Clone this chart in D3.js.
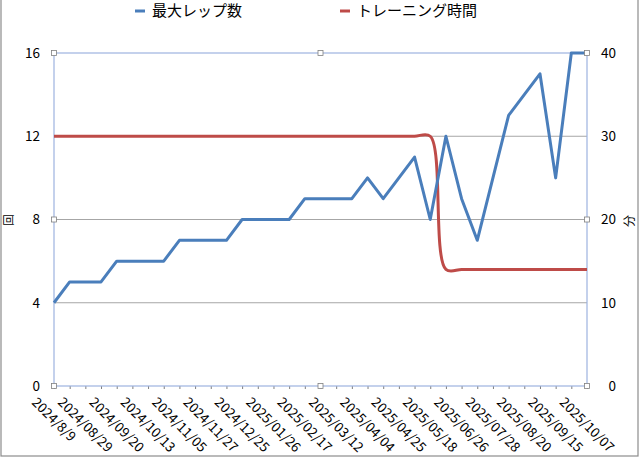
<!DOCTYPE html>
<html><head><meta charset="utf-8">
<script src="https://cdn.jsdelivr.net/npm/d3@7"></script>
<style>
html,body{margin:0;padding:0;background:#fff;}
svg{display:block;font-family:"Noto Sans CJK JP","Noto Sans",sans-serif;}
</style></head>
<body>
<svg id="chart" width="640" height="458"></svg>
<script>
// ---- data ----
const tickLabels = ["2024/8/9","2024/08/29","2024/09/20","2024/10/13","2024/11/05","2024/11/27","2024/12/25","2025/01/26","2025/02/17","2025/03/12","2025/04/04","2025/04/25","2025/05/18","2025/06/26","2025/07/28","2025/08/20","2025/09/15","2025/10/07"];
const maxReps = [4,5,5,5,6,6,6,6,7,7,7,7,8,8,8,8,9,9,9,9,10,9,10,11,8,12,9,7,10,13,14,15,10,16,16];
const trainingMinutes = [30,30,30,30,30,30,30,30,30,30,30,30,30,30,30,30,30,30,30,30,30,30,30,30,30,14,14,14,14,14,14,14,14,14,14];
const leftTicks = [0,4,8,12,16];
const rightTicks = [0,10,20,30,40];
const seriesNames = ["最大レップ数","トレーニング時間"];
const seriesColors = ["#4a7ebb","#be4b48"];

const svg = d3.select("#chart");
const L = 54, R = 587, T = 53, B = 386;
const n = maxReps.length;
const x = d3.scaleLinear().domain([0, n - 1]).range([L, R]);
const yL = d3.scaleLinear().domain([0, 16]).range([B, T]);
const yR = d3.scaleLinear().domain([0, 40]).range([B, T]);

// outer border
svg.append("rect").attr("x", 1).attr("y", -5).attr("width", 637).attr("height", 461)
  .attr("fill", "none").attr("stroke", "#8c8c8c").attr("stroke-width", 1.2);

// gridlines
svg.append("g").selectAll("line").data(leftTicks.filter(d => d > 0 && d < 16)).join("line")
  .attr("x1", L).attr("x2", R).attr("y1", d => yL(d)).attr("y2", d => yL(d))
  .attr("stroke", "#a6a6a6").attr("stroke-width", 1);

// bottom axis ticks
const xAxis = d3.axisBottom(x).tickValues(d3.range(n)).tickSize(3).tickSizeOuter(0).tickFormat("");
const gx = svg.append("g").attr("transform", `translate(0,${B})`).call(xAxis);
gx.select(".domain").remove();
gx.selectAll(".tick line").attr("stroke", "#7f7f7f");

// left axis
const gl = svg.append("g").attr("transform", `translate(${L},0)`)
  .call(d3.axisLeft(yL).tickValues(leftTicks).tickSize(0).tickPadding(14));
gl.select(".domain").remove();
gl.selectAll("text").attr("font-size", 13.5).attr("fill", "#000")
  .attr("font-family", "'Noto Sans CJK JP',sans-serif");

// right axis
const gr = svg.append("g").attr("transform", `translate(${R},0)`)
  .call(d3.axisRight(yR).tickValues(rightTicks).tickSize(0));
gr.select(".domain").remove();
gr.selectAll("text").attr("font-size", 13.5).attr("fill", "#000").attr("text-anchor", "end").attr("x", 29)
  .attr("font-family", "'Noto Sans CJK JP',sans-serif");

// plot area border
svg.append("rect").attr("x", L).attr("y", T).attr("width", R - L).attr("height", B - T)
  .attr("fill", "none").attr("stroke", "#9db3e0").attr("stroke-width", 1.2);

// lines
const lineL = d3.line().x((d, i) => x(i)).y(d => yL(d)).curve(d3.curveLinear);
const lineR = d3.line().x((d, i) => x(i)).y(d => yR(d)).curve(d3.curveCatmullRom.alpha(0.5));
svg.append("path").datum(trainingMinutes).attr("d", lineR).attr("fill", "none")
  .attr("stroke", seriesColors[1]).attr("stroke-width", 3).attr("stroke-linejoin", "round");
svg.append("path").datum(maxReps).attr("d", lineL).attr("fill", "none")
  .attr("stroke", seriesColors[0]).attr("stroke-width", 3).attr("stroke-linejoin", "round");

// selection handles
const handles = [[L, T], [(L + R) / 2, T], [R, T], [L, (T + B) / 2], [R, (T + B) / 2], [L, B], [(L + R) / 2, B], [R, B]];
svg.append("g").selectAll("rect").data(handles).join("rect")
  .attr("x", d => d[0] - 2.5).attr("y", d => d[1] - 2.5).attr("width", 5).attr("height", 5)
  .attr("fill", "#fff").attr("stroke", "#808080").attr("stroke-width", 0.8);

// x labels rotated 45deg
const fs = 13.5;
const labG = svg.append("g").attr("font-size", fs).attr("fill", "#000");
tickLabels.forEach((lab, k) => {
  const i = k * 2;
  const g = labG.append("g");
  const t = g.append("text").attr("text-anchor", "middle").attr("dy", "0.35em").text(lab);
  const len = t.node().getComputedTextLength();
  const boxH = (len + fs) * Math.SQRT1_2;
  g.attr("transform", `translate(${x(i)},${395 + boxH / 2}) rotate(45)`);
});

// axis titles
svg.append("text").attr("transform", "translate(8.5,220) rotate(-90)").attr("text-anchor", "middle")
  .attr("dy", "0.35em").attr("font-size", 11.5).text("回");
svg.append("text").attr("transform", "translate(629.5,221) rotate(-90)").attr("text-anchor", "middle")
  .attr("dy", "0.35em").attr("font-size", 12).text("分");

// legend
const legendX = [135, 340];
seriesNames.forEach((name, i) => {
  const g = svg.append("g").attr("transform", `translate(${legendX[i]},11)`);
  g.append("line").attr("x1", 0).attr("x2", 10).attr("y1", 0).attr("y2", 0)
    .attr("stroke", seriesColors[i]).attr("stroke-width", 3);
  g.append("text").attr("x", 17).attr("dy", "0.35em").attr("font-size", 15).text(name);
});
</script>
</body></html>
